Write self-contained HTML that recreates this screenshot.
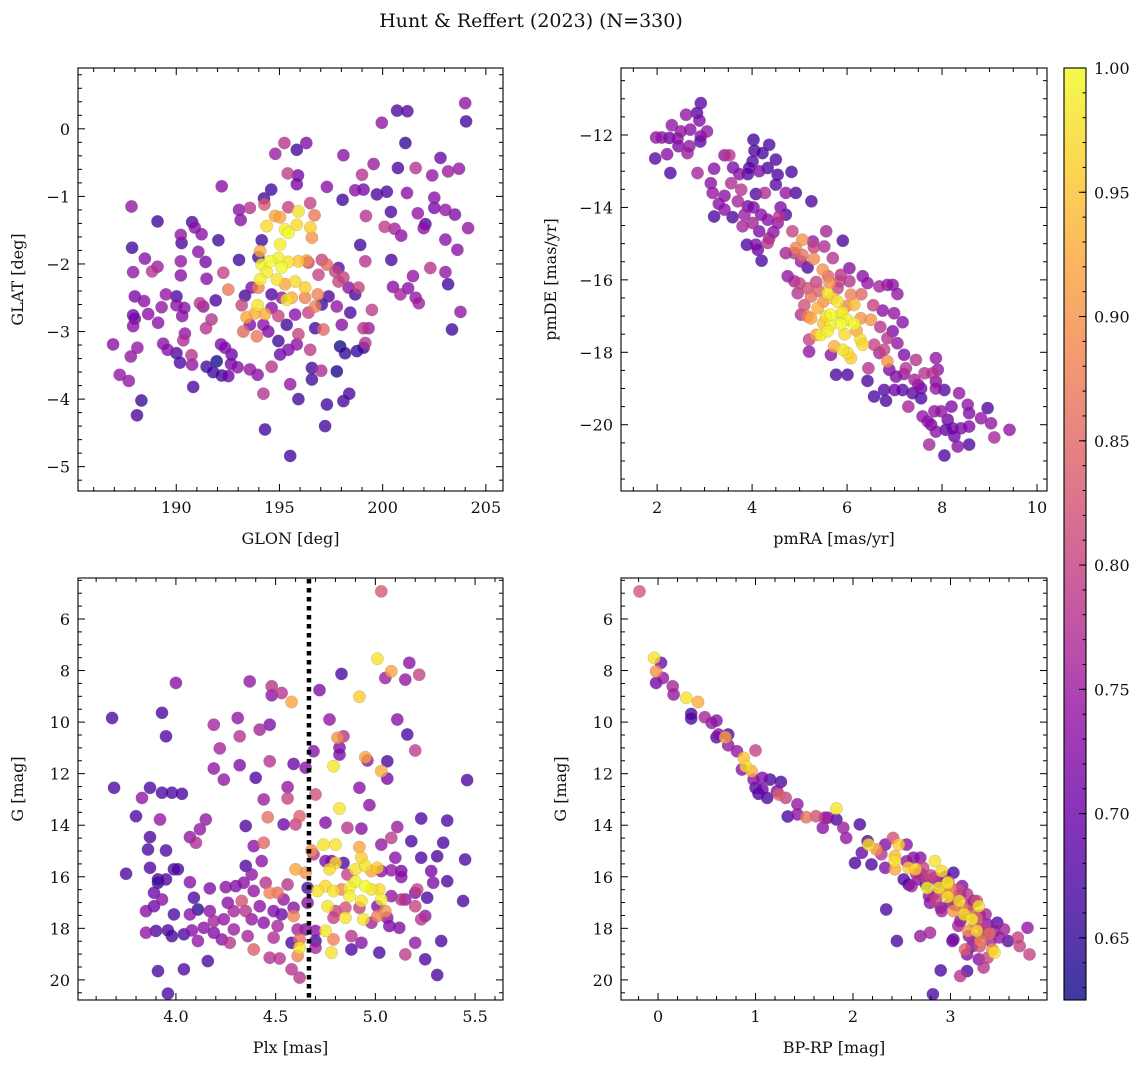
<!DOCTYPE html>
<html><head><meta charset="utf-8">
<style>
html,body{margin:0;padding:0;background:#fff;}
svg{display:block;font-family:"DejaVu Serif","Liberation Serif",serif;}
</style></head>
<body>
<svg id="fig" width="1148" height="1068" viewBox="0 0 1148 1068" xmlns="http://www.w3.org/2000/svg">
<defs>
<linearGradient id="cbgrad" x1="0" y1="1" x2="0" y2="0">
<stop offset="0" stop-color="#0d0887"/><stop offset="0.1" stop-color="#41049d"/><stop offset="0.2" stop-color="#6a00a8"/><stop offset="0.3" stop-color="#8f0da4"/><stop offset="0.4" stop-color="#b12a90"/><stop offset="0.5" stop-color="#cc4778"/><stop offset="0.6" stop-color="#e16462"/><stop offset="0.7" stop-color="#f2844b"/><stop offset="0.8" stop-color="#fca636"/><stop offset="0.9" stop-color="#fcce25"/><stop offset="1" stop-color="#f0f921"/>
</linearGradient>
</defs>
<text x="531" y="27" font-size="19" text-anchor="middle" fill="#111">Hunt &amp; Reffert (2023) (N=330)</text>
</svg>
<script>
// ---------- data ----------
const glonGlatProb = [
[204.0,0.38,.74],[204.04,0.11,.66],[200.7,0.27,.67],[201.2,0.26,.68],[199.96,0.09,.74],[201.1,-0.21,.65],[198.1,-0.39,.73],
[194.8,-0.37,.75],[195.24,-0.21,.78],[195.84,-0.31,.66],[196.3,-0.21,.72],[202.8,-0.43,.70],[201.6,-0.58,.78],[200.74,-0.58,.67],
[202.4,-0.69,.74],[203.17,-0.63,.75],[203.7,-0.59,.74],[199.56,-0.52,.75],[199.0,-0.68,.78],[195.4,-0.66,.79],[195.9,-0.69,.71],
[195.84,-0.82,.71],[192.2,-0.85,.73],[197.3,-0.86,.73],[198.67,-0.91,.73],[199.07,-0.9,.71],[199.72,-0.97,.67],[200.2,-0.93,.67],
[201.18,-0.95,.73],[202.5,-1.02,.73],[198.06,-1.05,.66],[194.6,-0.9,.66],[194.25,-1.03,.66],[194.27,-1.12,.83],[187.83,-1.15,.74],
[189.09,-1.37,.66],[193.04,-1.2,.73],[193.57,-1.17,.78],[193.12,-1.35,.73],[200.4,-1.23,.67],[201.7,-1.25,.74],[202.5,-1.17,.71],
[203.04,-1.2,.74],[203.5,-1.27,.72],[204.14,-1.47,.74],[199.19,-1.29,.78],[200.1,-1.45,.79],[200.58,-1.48,.76],[200.9,-1.58,.73],
[202.07,-1.41,.67],[201.99,-1.47,.73],[203.04,-1.64,.73],[203.62,-1.79,.73],[198.91,-1.72,.66],
[195.43,-1.16,.8],[195.92,-1.22,.98],[196.49,-1.1,.8],[196.7,-1.28,.87],[194.79,-1.29,.92],[195.03,-1.31,.92],[194.38,-1.44,.97],
[195.27,-1.49,.99],[195.43,-1.54,1.0],[195.84,-1.42,.97],[196.5,-1.46,.96],[196.57,-1.61,.9],[195.03,-1.71,.99],[194.14,-1.65,.66],
[194.06,-1.81,.93],[193.98,-1.9,.66],[194.54,-1.96,1.0],[194.95,-1.91,.99],[194.14,-2.01,.99],[195.11,-2.05,1.0],[194.38,-2.12,.99],
[195.43,-1.97,.98],[195.92,-1.96,.95],[196.32,-1.95,.9],[194.06,-2.23,.99],[194.87,-2.23,.98],[195.76,-2.26,.97],[196.24,-2.35,.96],
[195.27,-2.3,.92],[196.4,-1.98,.8],[197.05,-1.94,.8],[197.3,-2.01,.85],[196.89,-2.16,.8],[197.7,-2.11,.8],[197.86,-2.06,.68],
[197.86,-2.26,.8],[198.1,-2.2,.8],[193.98,-2.35,.88],[192.52,-2.38,.87],[192.28,-2.13,.8],[195.35,-2.53,.98],[195.6,-2.5,.93],
[196.24,-2.5,.88],[196.86,-2.45,.88],[196.73,-2.63,.88],[193.94,-2.61,.98],[193.82,-2.73,.93],[194.3,-2.74,.93],[193.41,-2.79,.92],
[193.17,-2.61,.8],[193.25,-3.0,.85],[193.9,-3.07,.87],[194.95,-2.77,.8],[195.76,-2.75,.73],[196.4,-2.72,.8],[195.92,-3.04,.8],
[197.13,-2.97,.85],[195.11,-2.5,.74],[194.62,-2.65,.73],[193.04,-1.94,.66],[194.62,-2.45,.67],[195.35,-2.9,.66],[194.95,-3.14,.66],
[196.73,-2.95,.66],[197.05,-2.6,.66],[197.38,-2.48,.67],[198.35,-2.35,.73],[198.67,-2.45,.66],[198.83,-2.35,.8],[199.48,-2.68,.79],
[197.78,-2.63,.74],[198.43,-2.72,.67],[198.02,-2.9,.73],[199.07,-2.95,.78],[199.32,-2.95,.75],[199.16,-3.17,.78],[197.94,-3.22,.63],
[198.18,-3.32,.65],[198.75,-3.29,.65],[199.07,-3.24,.65],[196.49,-3.27,.79],[195.84,-3.19,.73],[195.43,-3.27,.72],[195.03,-3.34,.7],
[194.62,-3.52,.78],[195.52,-3.78,.74],[195.92,-4.0,.66],[196.57,-3.54,.66],[196.57,-3.71,.66],[197.02,-3.58,.77],[197.78,-3.59,.63],
[197.3,-4.08,.66],[198.1,-4.03,.66],[198.38,-3.92,.67],[197.21,-4.4,.66],[194.3,-4.45,.66],[195.52,-4.84,.66],[194.22,-3.92,.78],
[202.31,-2.06,.78],[203.04,-2.12,.74],[203.17,-2.3,.66],[201.47,-2.18,.74],[200.42,-1.94,.67],[200.5,-2.34,.73],[200.86,-2.45,.76],
[201.23,-2.36,.73],[201.6,-2.5,.74],[201.75,-2.58,.75],[203.77,-2.71,.74],[203.36,-2.97,.66],[199.16,-1.96,.78],
[187.86,-1.76,.66],[188.48,-1.92,.73],[187.91,-2.12,.74],[188.83,-2.11,.78],[189.09,-2.04,.75],[190.22,-1.96,.74],[190.22,-2.17,.73],
[190.22,-1.57,.74],[190.26,-1.69,.67],[190.77,-1.38,.67],[190.9,-1.46,.73],[191.23,-1.56,.73],[192.04,-1.65,.66],[191.07,-1.82,.73],
[191.42,-1.97,.71],[191.47,-2.22,.73],[187.99,-2.48,.71],[188.44,-2.55,.73],[187.91,-2.76,.71],[187.99,-2.81,.70],[188.64,-2.74,.73],
[187.91,-2.92,.73],[189.29,-2.64,.74],[189.5,-2.45,.74],[190.01,-2.48,.67],[190.01,-2.61,.73],[190.39,-2.65,.73],[190.29,-2.77,.73],
[189.12,-2.87,.73],[190.42,-3.03,.74],[190.34,-3.13,.77],[191.15,-2.58,.78],[191.31,-2.63,.74],[191.91,-2.54,.67],[191.71,-2.82,.78],
[191.44,-2.95,.78],[186.94,-3.19,.73],[188.12,-3.24,.74],[187.8,-3.37,.74],[189.37,-3.18,.73],[189.58,-3.27,.73],[190.01,-3.32,.67],
[190.18,-3.46,.67],[190.74,-3.35,.78],[190.77,-3.49,.74],[191.47,-3.52,.66],[191.96,-3.44,.63],[192.17,-3.19,.72],[192.36,-3.24,.72],
[192.68,-3.34,.7],[192.65,-3.48,.71],[192.97,-3.53,.73],[191.79,-3.6,.66],[192.2,-3.65,.66],[192.52,-3.66,.7],[193.57,-3.56,.74],
[193.94,-3.64,.73],[187.26,-3.64,.74],[187.7,-3.73,.74],[190.82,-3.82,.67],[188.31,-4.02,.66],[188.1,-4.24,.67],
[193.33,-2.47,.66],[193.65,-2.35,.72],[193.57,-2.9,.72],[194.22,-2.9,.73],[194.46,-3.0,.72]
];
const pmraPmdeProb = [
[2.92,-11.12,.68],[2.61,-11.44,.74],[2.84,-11.39,.68],[2.89,-11.6,.72],[2.31,-11.73,.74],[2.5,-11.9,.74],[2.7,-11.85,.73],[3.05,-11.9,.74],
[1.98,-12.07,.74],[2.1,-12.07,.73],[2.26,-12.08,.7],[2.43,-12.1,.73],[2.92,-12.04,.72],[2.91,-12.18,.68],[2.45,-12.31,.72],[2.68,-12.31,.74],
[2.64,-12.5,.75],[2.21,-12.53,.73],[1.96,-12.65,.68],[2.28,-13.05,.67],[2.85,-13.05,.76],
[4.03,-12.13,.66],[4.36,-12.27,.67],[4.05,-12.43,.67],[4.22,-12.5,.67],[4.5,-12.68,.67],[3.42,-12.56,.74],[3.52,-12.56,.78],[4.01,-12.73,.68],
[3.94,-12.91,.68],[3.2,-12.93,.73],[4.33,-12.91,.67],[4.15,-13.0,.72],[4.54,-13.1,.67],[4.83,-13.02,.67],[3.73,-13.08,.73],[3.91,-13.08,.67],
[3.13,-13.33,.73],[3.56,-13.33,.77],[4.5,-13.37,.68],[3.17,-13.6,.74],[3.42,-13.68,.73],[3.77,-13.51,.78],[4.08,-13.63,.67],[4.27,-13.6,.77],
[4.71,-13.6,.74],[4.92,-13.6,.67],[5.25,-13.83,.67],[3.7,-13.83,.76],[3.91,-13.97,.71],[4.03,-14.0,.72],[4.19,-14.2,.73],[3.2,-14.25,.67],
[3.42,-14.06,.73],[3.59,-14.27,.67],[3.84,-14.2,.75],[4.33,-14.34,.73],[4.54,-14.43,.74],[4.71,-14.2,.67],[4.01,-14.43,.76],[3.8,-14.52,.76],
[4.15,-14.66,.72],[4.45,-14.68,.73],[4.33,-14.98,.78],[3.89,-15.03,.67],[4.08,-15.03,.72],[4.12,-15.17,.7],[4.2,-15.47,.67],[4.57,-14.25,.78],
[4.36,-14.85,.76],
[4.85,-14.66,.8],[5.06,-14.89,.9],[4.92,-15.12,.88],[4.89,-15.26,.78],[5.28,-14.94,.75],[5.56,-14.66,.76],[5.91,-14.92,.67],[5.52,-15.08,.77],
[4.71,-15.26,.76],[5.06,-15.31,.86],[5.3,-15.42,.89],[5.17,-15.66,.67],[5.49,-15.72,.9],[5.03,-15.49,.75],[4.75,-15.9,.74],[4.89,-16.04,.76],
[6.05,-15.68,.73],[5.87,-15.86,.78],[6.33,-15.9,.73],[5.84,-16.04,.8],[5.63,-16.09,.9],[5.35,-16.06,.8],[5.17,-16.23,.82],[5.24,-16.46,.86],
[4.96,-16.37,.78],[5.59,-16.37,.98],[5.8,-16.23,.8],[6.05,-16.04,.78],[6.08,-16.41,.88],[6.43,-16.09,.74],[6.68,-16.18,.76],[6.85,-16.14,.74],
[6.96,-16.14,.73],[7.06,-16.39,.74],[5.8,-16.6,.98],[6.15,-16.69,.94],[5.98,-16.73,.88],[5.38,-16.78,.93],[5.03,-16.96,.78],[5.17,-17.01,.88],
[5.24,-17.06,.92],[5.66,-16.96,1.0],[5.56,-17.01,.97],[5.87,-16.96,.98],[5.87,-17.22,1.0],[5.66,-17.24,.99],[6.15,-17.22,1.0],[6.29,-17.06,.9],
[6.5,-17.1,.9],[6.75,-16.85,.73],[6.99,-16.92,.74],[7.17,-17.17,.73],[6.96,-17.42,.72],[5.45,-17.52,.99],[5.35,-17.52,.92],[5.59,-17.42,.99],
[5.2,-17.65,.8],[5.2,-17.98,.74],[5.73,-17.84,.93],[5.91,-17.93,.98],[6.01,-18.02,.97],[6.08,-18.16,.96],[6.28,-17.65,.97],[6.33,-17.79,.97],
[5.66,-18.07,.73],[5.77,-18.62,.67],[6.01,-18.62,.67],[6.45,-18.44,.78],[6.43,-18.79,.67],[6.57,-17.79,.8],[6.68,-18.02,.76],[6.78,-17.93,.8],
[6.85,-18.25,.9],[6.89,-18.48,.72],[7.03,-18.67,.72],[6.85,-17.61,.78],[7.06,-17.75,.74],[7.2,-18.07,.72],[7.24,-18.44,.78],[7.45,-18.21,.78],
[7.42,-18.76,.76],[7.63,-18.58,.78],[7.87,-18.16,.74],[7.91,-18.48,.74],[7.8,-18.58,.78],[7.87,-18.81,.73],[8.05,-19.04,.68],[7.87,-19.0,.74],
[7.56,-19.0,.7],[7.56,-19.27,.67],[7.38,-19.13,.68],[7.17,-19.04,.68],[7.0,-19.04,.7],[6.78,-19.04,.68],[6.57,-19.22,.67],[6.82,-19.34,.67],
[7.29,-19.5,.76],[8.36,-19.13,.74],[8.54,-19.45,.74],[8.96,-19.54,.67],[8.57,-19.68,.72],[7.59,-19.77,.74],[7.84,-19.63,.74],[7.98,-19.63,.74],
[8.12,-19.86,.7],[7.7,-19.91,.73],[7.87,-20.19,.73],[8.08,-20.14,.68],[8.22,-20.1,.7],[8.4,-20.1,.72],[8.57,-20.05,.72],[8.82,-19.82,.74],
[9.03,-19.96,.74],[9.42,-20.14,.74],[9.1,-20.35,.76],[8.26,-20.32,.7],[8.33,-20.6,.73],[8.57,-20.55,.67],[7.73,-20.55,.76],[8.05,-20.85,.67],
[7.77,-20.0,.72],
[5.4,-16.3,.84],[5.5,-16.6,.9],[5.7,-16.5,.95],[5.9,-16.9,.99],[6.0,-17.1,.99],[5.5,-17.2,.95],[5.95,-17.5,.97],[6.2,-17.4,.92],
[5.1,-16.7,.82],[6.3,-16.4,.85],[6.55,-16.7,.8],[6.7,-17.3,.78],[5.3,-15.1,.8],[5.7,-15.4,.78],[4.6,-14.0,.72],[3.6,-12.9,.72],
[3.3,-13.9,.73],[7.5,-18.9,.73],[8.2,-19.5,.72],[7.2,-18.6,.74],[5.0,-16.1,.8],[5.6,-15.9,.84]
];
const plxGmagProb = [
[5.03,4.93,.83],[5.01,7.54,.98],[5.08,8.03,.92],[5.17,7.7,.73],[5.22,8.16,.8],[5.15,8.35,.74],[5.05,8.29,.75],[4.83,8.13,.67],[4.72,8.76,.72],
[4.92,9.02,.96],[4.58,9.22,.92],[4.48,8.61,.78],[4.48,8.96,.73],[4.53,8.87,.78],[4.37,8.42,.74],[4.0,8.48,.73],[3.68,9.84,.67],[3.93,9.64,.67],
[3.95,10.55,.67],[4.19,10.1,.76],[4.31,9.84,.74],[4.32,10.55,.78],[4.42,10.29,.76],[4.47,10.1,.72],[4.22,11.02,.76],[4.32,11.67,.72],
[4.19,11.8,.74],[4.24,12.23,.74],[4.47,11.52,.78],[4.59,11.62,.7],[4.65,11.77,.73],[4.4,12.16,.67],[4.56,12.52,.74],[4.56,12.96,.8],
[4.44,13.0,.75],[4.46,13.69,.86],[4.62,13.65,.84],[4.6,13.97,.8],[4.54,13.97,.7],[4.35,14.03,.67],[4.07,14.46,.74],[4.1,14.68,.77],
[4.12,14.16,.74],[4.15,13.78,.74],[3.92,13.78,.74],[3.69,12.55,.67],[3.87,12.55,.67],[3.93,12.74,.67],[3.98,12.74,.67],[4.03,12.78,.67],
[3.83,12.94,.74],[3.8,13.65,.67],[3.87,14.46,.67],[3.86,14.94,.67],[3.95,14.98,.67],[3.75,15.88,.67],[3.87,15.65,.67],[3.99,15.71,.67],
[4.01,15.71,.67],[3.91,16.1,.67],[3.91,16.23,.64],[3.95,16.1,.67],[3.89,16.62,.7],[3.93,16.88,.73],[3.85,17.33,.73],[3.89,17.14,.7],
[3.85,18.17,.74],[3.9,18.1,.67],[3.96,18.08,.67],[3.98,18.3,.66],[3.99,17.46,.67],[4.04,18.23,.67],[4.07,16.21,.73],[4.09,16.81,.67],
[4.11,17.27,.64],[4.07,17.46,.73],[4.08,18.08,.73],[4.11,18.49,.74],[4.17,17.33,.73],[4.19,17.72,.76],[4.19,18.17,.72],[4.14,17.98,.73],
[4.23,18.43,.73],[4.16,19.27,.67],[4.04,19.59,.67],[3.91,19.66,.67],[3.96,20.53,.67],[4.17,16.45,.72],[4.25,16.4,.73],[4.3,16.36,.72],
[4.34,16.23,.73],[4.35,15.58,.67],[4.38,15.91,.74],[4.39,14.81,.73],[4.44,14.68,.85],[4.43,15.39,.73],[4.45,16.23,.78],[4.47,16.62,.88],
[4.51,16.62,.86],[4.39,16.55,.74],[4.26,17.01,.73],[4.33,16.94,.82],[4.29,17.33,.76],[4.35,17.33,.78],[4.38,17.65,.74],[4.24,17.65,.74],
[4.29,18.04,.75],[4.27,18.56,.78],[4.36,18.3,.76],[4.39,18.82,.84],[4.44,17.78,.73],[4.42,17.14,.73],[4.49,17.33,.72],[4.53,17.46,.7],
[4.51,17.91,.76],[4.59,17.2,.73],[4.59,17.52,.88],[4.54,16.88,.74],[4.56,16.3,.78],[4.47,19.14,.78],[4.52,19.17,.78],[4.58,19.59,.78],
[4.62,19.91,.78],[4.61,19.07,.88],[4.62,18.75,.98],[4.58,18.56,.67],[4.62,18.43,.86],[4.49,18.36,.77],[4.61,18.04,.76],[4.65,18.04,.73],
[4.66,17.01,.73],[4.66,16.43,.67],[4.65,15.84,.9],[4.6,15.71,.92],[4.68,14.98,.9],[4.69,11.13,.73],[4.7,12.81,.82],[4.69,15.13,.78],
[4.7,18.1,.73],[4.7,18.49,.66],[4.7,18.75,.76],[4.75,13.9,.72],[4.77,9.9,.74],[4.81,10.61,.9],[4.84,10.55,.78],[4.82,10.99,.72],
[4.82,11.26,.72],[4.79,11.71,.98],[4.82,13.35,.98],[4.74,14.75,.98],[4.8,14.75,.98],[4.75,15.39,.72],[4.78,15.39,.7],[4.84,15.46,.67],
[4.8,15.46,.97],[4.77,15.71,.97],[4.86,15.91,.8],[4.92,14.85,.92],[4.93,15.26,.96],[4.86,14.1,.78],[4.93,14.13,.73],[4.92,12.55,.73],
[4.97,13.22,.73],[4.95,11.36,.92],[4.96,11.49,.74],[5.03,11.9,.93],[5.06,11.52,.67],[5.06,12.19,.71],[5.11,9.9,.73],[5.16,10.48,.67],
[5.2,11.1,.79],[5.11,14.07,.75],[5.08,14.49,.79],[5.03,14.75,.74],[5.23,13.74,.67],[5.18,14.62,.67],[5.36,13.82,.67],[5.34,14.68,.67],
[5.31,15.2,.67],[5.23,15.26,.67],[5.46,12.25,.67],[5.45,15.33,.67],[5.1,15.26,.73],[5.08,15.75,.74],[5.13,15.78,.71],[5.13,16.01,.73],
[5.28,15.78,.71],[5.29,16.23,.72],[5.36,16.17,.67],[5.21,16.49,.8],[5.2,16.62,.72],[5.26,16.81,.67],[5.44,16.94,.67],[5.13,16.88,.78],
[5.2,17.14,.8],[4.9,15.71,.98],[4.95,15.58,.98],[5.01,15.65,.96],[4.98,15.78,.92],[5.03,15.78,.73],[5.08,16.75,.74],[4.9,16.19,.99],
[4.95,16.36,1.0],[4.98,16.49,.98],[5.02,16.49,.97],[4.87,16.43,.99],[4.83,16.49,.88],[4.79,16.55,.98],[4.75,16.36,.97],[4.71,16.55,.98],
[4.87,16.75,.99],[4.93,16.94,.98],[5.03,16.88,.99],[5.01,17.14,.72],[4.92,17.2,.8],[4.85,17.2,.82],[4.76,17.14,.98],[4.8,17.33,.8],
[4.85,17.59,.98],[4.94,17.65,.98],[5.01,17.52,.88],[5.05,17.33,.9],[5.06,17.59,.74],[5.07,17.91,.72],[5.12,17.98,.72],[4.98,17.78,.76],
[4.79,17.59,.8],[4.75,18.1,.98],[4.79,18.43,.88],[4.78,18.94,.98],[4.88,18.3,.78],[4.93,18.56,.73],[4.88,18.82,.67],[5.02,18.94,.67],
[5.15,19.01,.79],[5.2,18.56,.74],[5.25,17.52,.74],[5.23,17.65,.78],[5.33,18.49,.67],[5.25,19.2,.67],[5.31,19.81,.67],[5.15,16.88,.74]
];
const bprpGmagProb = [
[-0.19,4.93,.83],[-0.04,7.51,.98],[0.03,7.7,.7],[-0.02,8.03,.9],[0.05,8.29,.74],[-0.02,8.48,.7],[0.15,8.61,.76],[0.16,8.93,.74],
[0.29,9.06,.98],[0.41,9.22,.93],[0.34,9.68,.67],[0.34,9.86,.67],[0.48,9.81,.76],[0.55,10.03,.74],[0.6,9.94,.73],[0.62,10.48,.73],
[0.6,10.59,.67],[0.69,10.59,.92],[0.72,10.48,.67],[0.72,10.9,.74],[0.81,11.13,.74],[0.88,11.39,.95],[0.9,11.71,.97],[0.86,11.84,.73],
[0.96,11.9,.93],[1.0,11.1,.8],[0.98,12.23,.73],[1.07,12.16,.72],[1.15,12.23,.67],[1.26,12.32,.67],[1.0,12.55,.67],[1.07,12.61,.7],
[1.03,12.78,.67],[1.12,12.94,.67],[1.22,12.68,.72],[1.31,12.94,.8],[1.24,12.81,.84],[1.43,13.19,.74],[1.33,13.66,.67],[1.43,13.58,.73],
[1.52,13.69,.86],[1.62,13.65,.82],[1.71,13.71,.76],[1.69,14.1,.73],[1.74,13.71,.72],[1.83,13.35,.98],[1.83,13.78,.67],[1.9,14.1,.75],
[1.93,14.49,.74],[2.07,13.97,.67],[2.09,15.07,.7],[2.02,15.46,.67],[2.19,15.52,.67],[2.15,14.62,.67],[2.16,14.75,.98],[2.24,14.94,.9],
[2.33,14.75,.72],[2.29,15.13,.78],[2.41,14.49,.82],[2.47,14.75,.96],[2.55,14.75,.73],[2.43,15.2,.94],[2.43,15.39,.98],[2.33,15.65,.72],
[2.43,15.71,.92],[2.57,15.65,.96],[2.64,15.71,.96],[2.52,16.1,.67],[2.57,16.3,.66],[2.62,15.26,.73],[2.69,15.26,.73],[2.72,15.65,.8],
[2.84,15.39,.98],[2.91,15.78,.97],[3.03,15.84,.67],[2.76,16.1,.8],[2.84,16.04,.78],[2.76,16.43,1.0],[2.88,16.43,.98],[2.97,16.23,.99],
[2.98,16.49,.9],[3.07,16.49,.82],[3.12,16.36,.72],[2.83,16.68,.77],[2.78,16.75,.73],[2.97,16.78,.98],[3.09,16.94,.98],[3.17,16.68,.78],
[3.27,16.94,.82],[3.29,17.14,.98],[3.24,16.94,.72],[3.03,17.33,.9],[3.14,17.46,.98],[3.22,17.65,.99],[3.27,17.59,.85],[3.19,17.33,.84],
[3.36,17.46,.76],[2.91,17.33,.76],[2.79,17.01,.73],[3.1,17.72,.72],[3.27,18.1,.97],[3.38,17.85,.73],[3.48,17.78,.68],[3.55,18.04,.76],
[3.45,18.1,.74],[3.59,18.49,.68],[3.69,18.36,.8],[3.79,17.98,.74],[3.71,18.69,.8],[3.81,19.01,.8],[3.41,18.49,.76],[3.31,18.49,.88],
[3.43,18.82,.9],[3.45,18.94,.98],[3.38,19.14,.8],[3.29,19.2,.73],[3.34,19.52,.78],[3.17,19.01,.72],[3.15,18.82,.84],[3.03,18.43,.67],
[3.19,18.3,.73],[3.02,18.49,.72],[3.17,19.66,.67],[3.1,19.85,.78],[2.9,19.63,.67],[2.82,20.56,.67],[2.45,18.49,.67],[2.69,18.3,.74],
[2.79,18.17,.76],[2.34,17.27,.67],[2.6,16.36,.75],[2.67,16.1,.73],
[2.7,15.9,.72],[2.75,16.3,.66],[2.8,15.95,.8],[2.88,16.2,.74],[2.92,16.6,.85],[2.95,16.0,.7],[3.0,16.7,.86],[3.02,16.95,.8],
[3.05,17.1,.74],[3.1,16.7,.75],[3.12,17.2,.88],[3.15,17.5,.8],[3.2,17.1,.76],[3.25,17.8,.82],[3.3,17.5,.75],[3.33,18.0,.8],
[3.35,18.2,.72],[3.4,18.2,.86],[3.25,18.4,.78],[3.5,18.35,.74],[3.22,18.7,.7],[3.0,17.0,.72],[2.85,16.9,.8],[2.65,15.9,.78],
[2.55,15.4,.74],[2.9,17.2,.72],[3.08,17.9,.76],[3.3,18.7,.82],[3.18,18.1,.9],[2.98,16.2,.85]
];
const cbarTicks = [0.65,0.70,0.75,0.80,0.85,0.90,0.95,1.00];
const cbarMin = 0.625, cbarMax = 1.0;
const plxCut = 4.667;

// ---------- helpers ----------
const NS = "http://www.w3.org/2000/svg";
const svg = document.getElementById('fig');
function mk(tag, attrs, parent){
  const e = document.createElementNS(NS, tag);
  for (const k in attrs) e.setAttribute(k, attrs[k]);
  (parent||svg).appendChild(e);
  return e;
}
const stops = [[0,[13,8,135]],[.1,[65,4,157]],[.2,[106,0,168]],[.3,[143,13,164]],[.4,[177,42,144]],[.5,[204,71,120]],[.6,[225,100,98]],[.7,[242,132,75]],[.8,[252,166,54]],[.9,[252,206,37]],[1,[240,249,33]]];
function plasma(t){
  t = Math.max(0, Math.min(1, t));
  for (let i=1;i<stops.length;i++){
    if (t <= stops[i][0]){
      const a = stops[i-1], b = stops[i], f = (t-a[0])/(b[0]-a[0]);
      return 'rgb(' + [0,1,2].map(j=>Math.round(a[1][j]+(b[1][j]-a[1][j])*f)).join(',') + ')';
    }
  }
  return 'rgb(240,249,33)';
}
function fmt(v, d){ return (v<0?'\u2212':'') + Math.abs(v).toFixed(d); }

function panel(cfg){
  const {name, L, T, R, B, xmin, xmax, ymin, ymax, invert, data, xMaj, xMin, yMaj, yMin, xDec, yDec, xlabel, ylabel} = cfg;
  const g = mk('g', {});
  
  
  const sx = v => L + (v - xmin) / (xmax - xmin) * (R - L);
  const sy = v => invert ? T + (v - ymin) / (ymax - ymin) * (B - T) : B - (v - ymin) / (ymax - ymin) * (B - T);
  const clipId = 'clip-' + name;
  const cp = mk('clipPath', {id: clipId}, g);
  mk('rect', {x: L, y: T, width: R-L, height: B-T}, cp);
  const pts = mk('g', {'clip-path': 'url(#' + clipId + ')'}, g);
  
  
  const sorted = data.slice().sort((a,b)=>a[2]-b[2]);
  sorted.forEach(d => {
    const c = mk('circle', {cx: sx(d[0]).toFixed(1), cy: sy(d[1]).toFixed(1), r: 6.2, fill: plasma((d[2]-cbarMin)/(cbarMax-cbarMin)), 'fill-opacity': 0.78, stroke: '#777', 'stroke-opacity': 0.5, 'stroke-width': 0.4}, pts);
    
    
  });
  if (cfg.extra) cfg.extra(g, sx, sy);
  const fr = mk('rect', {x: L, y: T, width: R-L, height: B-T, fill: 'none', stroke: '#000', 'stroke-width': 1.1}, g);
  
  
  const tg = mk('g', {stroke: '#000', 'stroke-width': 1}, g);
  const eps = 1e-9;
  for (let v = Math.ceil(xmin/xMin)*xMin; v <= xmax+eps; v += xMin){
    const x = sx(v), isMaj = Math.abs(v/xMaj - Math.round(v/xMaj)) < 1e-6, len = isMaj ? 7 : 4;
    mk('line', {x1:x, x2:x, y1:B, y2:B-len}, tg); mk('line', {x1:x, x2:x, y1:T, y2:T+len}, tg);
    if (isMaj){
      const t = mk('text', {x:x, y:B+22, 'font-size':16, 'text-anchor':'middle', fill:'#111', stroke:'none'}, g);
      t.textContent = fmt(v, xDec);
      
      
    }
  }
  for (let v = Math.ceil(ymin/yMin)*yMin; v <= ymax+eps; v += yMin){
    const y = sy(v), isMaj = Math.abs(v/yMaj - Math.round(v/yMaj)) < 1e-6, len = isMaj ? 7 : 4;
    mk('line', {x1:L, x2:L+len, y1:y, y2:y}, tg); mk('line', {x1:R, x2:R-len, y1:y, y2:y}, tg);
    if (isMaj){
      const t = mk('text', {x:L-8, y:y+6, 'font-size':16, 'text-anchor':'end', fill:'#111', stroke:'none'}, g);
      t.textContent = fmt(v, yDec);
      
      
    }
  }
  const xl = mk('text', {x:(L+R)/2, y:B+53, 'font-size':16, 'text-anchor':'middle', fill:'#111'}, g);
  xl.textContent = xlabel;
  
  
  const yl = mk('text', {x:0, y:0, 'font-size':16, 'text-anchor':'middle', fill:'#111', transform:'translate(' + cfg.ylx + ',' + (T+B)/2 + ') rotate(-90)'}, g);
  yl.textContent = ylabel;
  
  
}

panel({name:'glon-glat-panel', L:78, T:68, R:503, B:491, xmin:185.24, xmax:205.83, ymin:-5.36, ymax:0.9, data:glonGlatProb,
  xMaj:5, xMin:1, yMaj:1, yMin:0.2, xDec:0, yDec:0, xlabel:'GLON [deg]', ylabel:'GLAT [deg]', ylx:23});
panel({name:'pm-panel', L:621, T:68, R:1047, B:491, xmin:1.24, xmax:10.21, ymin:-21.83, ymax:-10.15, data:pmraPmdeProb,
  xMaj:2, xMin:0.5, yMaj:2, yMin:0.5, xDec:0, yDec:0, xlabel:'pmRA [mas/yr]', ylabel:'pmDE [mas/yr]', ylx:556});
panel({name:'plx-g-panel', L:78, T:578, R:503, B:1000, xmin:3.509, xmax:5.64, ymin:4.41, ymax:20.78, invert:true, data:plxGmagProb,
  xMaj:0.5, xMin:0.1, yMaj:2, yMin:0.5, xDec:1, yDec:0, xlabel:'Plx [mas]', ylabel:'G [mag]', ylx:23,
  extra:(g, sx, sy)=>{
    const l = mk('line', {x1:sx(plxCut), x2:sx(plxCut), y1:579, y2:1000, stroke:'#000', 'stroke-width':4.5, 'stroke-dasharray':'4.5 4.5'}, g);
    
    
  }});
panel({name:'cmd-panel', L:621, T:578, R:1047, B:1000, xmin:-0.38, xmax:3.99, ymin:4.41, ymax:20.78, invert:true, data:bprpGmagProb,
  xMaj:1, xMin:0.2, yMaj:2, yMin:0.5, xDec:0, yDec:0, xlabel:'BP-RP [mag]', ylabel:'G [mag]', ylx:566});

(function(){
  const L=1064, R=1086, T=68, B=1000;
  const g = mk('g', {});
  
  
  mk('rect', {x:L, y:T, width:R-L, height:B-T, fill:'url(#cbgrad)', 'fill-opacity':0.8}, g);
  mk('rect', {x:L, y:T, width:R-L, height:B-T, fill:'none', stroke:'#000', 'stroke-width':1.1}, g);
  const sy = v => B - (v - cbarMin)/(cbarMax - cbarMin)*(B-T);
  for (let v = 0.63; v <= cbarMax + 1e-9; v += 0.01){
    const y = sy(v);
    mk('line', {x1:R, x2:R-3.5, y1:y, y2:y, stroke:'#000', 'stroke-width':1}, g);
  }
  cbarTicks.forEach(v => {
    const y = sy(v);
    mk('line', {x1:R, x2:R-7, y1:y, y2:y, stroke:'#000', 'stroke-width':1}, g);
    const t = mk('text', {x:R+8, y:y+6, 'font-size':16, fill:'#111'}, g);
    t.textContent = v.toFixed(2);
    
    
  });
})();
</script>
</body></html>
